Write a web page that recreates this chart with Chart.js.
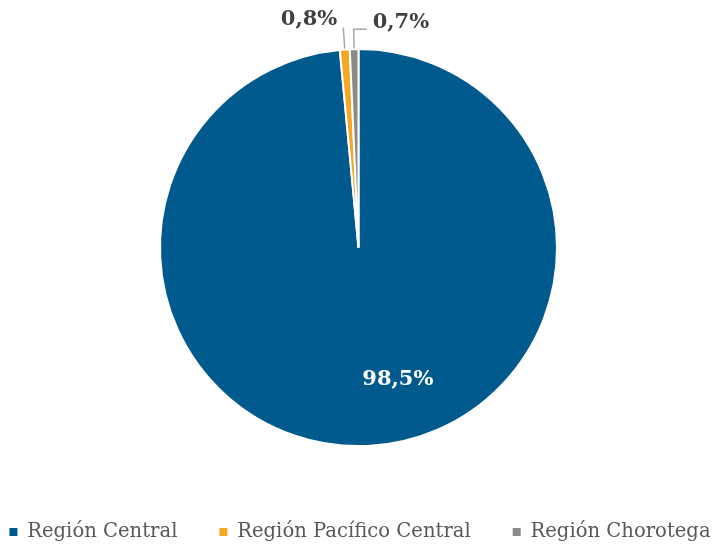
<!DOCTYPE html>
<html>
<head>
<meta charset="utf-8">
<script src="https://cdn.jsdelivr.net/npm/chart.js@4.4.0/dist/chart.umd.min.js"></script>
<style>
  html, body { margin: 0; padding: 0; background: #fff; }
</style>
</head>
<body>
<canvas id="pie" width="717" height="548"></canvas>
<script>
const regiones = ["Región Central", "Región Pacífico Central", "Región Chorotega"];
const porcentajes = [98.5, 0.8, 0.7];
const colores = ["#005a8e", "#f5a623", "#8a8a8a"];

const fmt = v => v.toFixed(1).replace(".", ",") + "%";

// percentage labels, inside for the big slice, with leader lines for the small ones
const pctLabels = {
    id: "pctLabels",
    afterDatasetsDraw(chart) {
        const ctx = chart.ctx;
        const arcs = chart.getDatasetMeta(0).data;
        ctx.save();
        ctx.font = "bold 21px 'DejaVu Serif'";
        ctx.textBaseline = "middle";
        arcs.forEach((arc, i) => {
            const p = arc.getProps(["x", "y", "startAngle", "endAngle", "outerRadius"], true);
            const mid = (p.startAngle + p.endAngle) / 2;
            const txt = fmt(porcentajes[i]);
            if (i === 0) {
                const a = mid - 14 * Math.PI / 180;
                const r = p.outerRadius * 0.69;
                ctx.fillStyle = "#ffffff";
                ctx.textAlign = "center";
                ctx.fillText(txt, p.x + Math.cos(a) * r, p.y + Math.sin(a) * r + 1);
                return;
            }
            const r0 = p.outerRadius + 1;
            const r1 = p.outerRadius + (i === 1 ? 22 : 20);
            const x0 = p.x + Math.cos(mid) * r0, y0 = p.y + Math.sin(mid) * r0;
            const x1 = p.x + Math.cos(mid) * r1, y1 = p.y + Math.sin(mid) * r1;
            ctx.strokeStyle = "#a6a6a6";
            ctx.lineWidth = 1.5;
            ctx.beginPath();
            ctx.moveTo(x0, y0);
            ctx.lineTo(x1, y1);
            ctx.fillStyle = "#404040";
            if (i === 1) {
                ctx.stroke();
                ctx.textAlign = "right";
                ctx.fillText(txt, x1 - 6, y1 - 8);
            } else {
                ctx.lineTo(x1 + 13, y1);
                ctx.stroke();
                ctx.textAlign = "left";
                ctx.fillText(txt, x1 + 19, y1 - 7);
            }
        });
        ctx.restore();
    }
};

const pie = document.querySelector("#pie");
const myPieChart = new Chart(pie, {
    type: "pie",
    data: {
        labels: regiones,
        datasets: [
            {
                data: porcentajes,
                backgroundColor: colores,
                borderColor: "#ffffff",
                borderWidth: 2,
                radius: 198.5
            }
        ]
    },
    options: {
        responsive: false,
        animation: false,
        devicePixelRatio: 1,
        // wide negative side padding keeps the legend on one row
        layout: { padding: { top: 15, bottom: -3.8, left: -38, right: -41 } },
        plugins: {
            tooltip: { enabled: false },
            legend: {
                position: "bottom",
                labels: {
                    font: { family: "'DejaVu Serif'", size: 19.6 },
                    color: "#595959",
                    boxWidth: 8,
                    boxHeight: 8,
                    padding: 42,
                    generateLabels(chart) {
                        const items = Chart.overrides.pie.plugins.legend.labels.generateLabels(chart);
                        return items.map(it => Object.assign(it, { lineWidth: 0, strokeStyle: it.fillStyle }));
                    }
                }
            }
        }
    },
    plugins: [pctLabels]
});
</script>
</body>
</html>
